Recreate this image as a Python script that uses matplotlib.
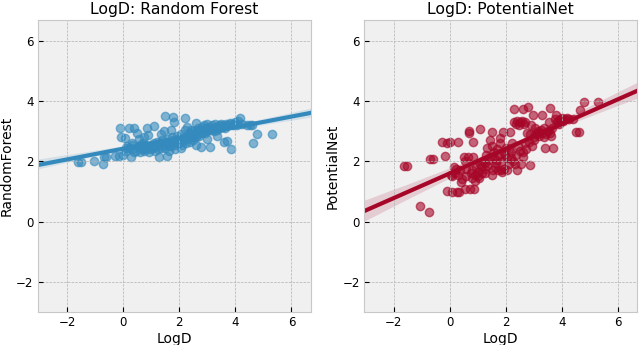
import matplotlib
matplotlib.use("Agg")
import matplotlib.pyplot as plt
import numpy as np
import seaborn as sns

plt.style.use("bmh")

logd = [-1.62, -1.52, -1.05, -0.73, -0.70, -0.60, -0.28, -0.15, -0.10, -0.08,
        0.00, 0.05, 0.10, 0.20, 0.22, 0.26, 0.31, 0.33, 0.38, 0.45,
        0.50, 0.55, 0.60, 0.65, 0.69, 0.70, 0.73, 0.75, 0.80, 0.82,
        0.85, 0.87, 0.90, 0.95, 1.00, 1.05, 1.09, 1.10, 1.15, 1.20,
        1.25, 1.27, 1.30, 1.35, 1.40, 1.45, 1.50, 1.52, 1.55, 1.57,
        1.60, 1.65, 1.70, 1.72, 1.75, 1.78, 1.80, 1.82, 1.85, 1.90,
        1.92, 1.95, 2.00, 2.05, 2.10, 2.15, 2.18, 2.22, 2.25, 2.28,
        2.30, 2.32, 2.35, 2.38, 2.40, 2.42, 2.45, 2.48, 2.50, 2.52,
        2.55, 2.58, 2.60, 2.62, 2.65, 2.68, 2.70, 2.72, 2.76, 2.80,
        2.82, 2.85, 2.88, 2.90, 2.95, 2.98, 3.00, 3.05, 3.09, 3.12,
        3.15, 3.20, 3.25, 3.28, 3.30, 3.35, 3.40, 3.45, 3.50, 3.55,
        3.57, 3.59, 3.62, 3.65, 3.70, 3.75, 3.81, 3.83, 3.86, 3.90,
        3.95, 4.00, 4.05, 4.10, 4.18, 4.25, 4.40, 4.52, 4.60, 4.64,
        4.78, 5.30,
        0.10, 0.15, 0.40, 0.60, 0.78, 0.92, 1.00, 1.12, 1.25, 1.45,
        1.50, 1.62, 1.70, 1.85, 1.98, 2.05, 2.12, 0.30, 0.55, 1.35,
        2.20, 2.60, 3.00, 3.35]

random_forest = [1.97, 1.97, 2.00, 1.91, 2.16, 2.16, 2.17, 2.17, 3.10, 2.80,
                 2.20, 2.78, 2.45, 3.10, 2.43, 2.16, 2.40, 2.55, 3.10, 2.35,
                 2.93, 2.50, 2.30, 2.45, 2.60, 2.40, 2.80, 2.35, 2.50, 2.55,
                 3.10, 2.45, 2.88, 2.40, 2.55, 2.45, 3.18, 2.60, 2.35, 2.65,
                 2.50, 2.16, 2.60, 2.45, 2.70, 3.00, 3.50, 2.55, 2.65, 2.18,
                 2.75, 2.50, 3.05, 2.60, 2.80, 3.49, 3.30, 2.70, 2.55, 2.85,
                 2.60, 2.75, 2.65, 2.90, 2.55, 2.80, 2.70, 3.43, 2.60, 3.15,
                 2.85, 2.75, 2.95, 2.65, 2.90, 3.05, 2.80, 2.70, 3.00, 2.85,
                 2.95, 3.29, 2.80, 3.05, 2.90, 3.10, 2.85, 3.00, 2.49, 3.15,
                 2.95, 3.05, 3.20, 2.95, 3.10, 3.25, 3.00, 3.15, 2.49, 3.05,
                 3.20, 3.10, 3.00, 3.25, 3.15, 3.05, 3.20, 3.10, 3.25, 3.15,
                 3.20, 2.65, 3.10, 3.25, 2.68, 3.20, 3.28, 3.26, 2.40, 3.20,
                 3.25, 3.30, 3.20, 3.35, 3.43, 3.25, 3.22, 3.20, 3.20, 2.62,
                 2.91, 2.91,
                 2.35, 2.50, 2.30, 2.55, 2.40, 2.30, 2.45, 2.50, 2.40, 2.55,
                 2.45, 2.35, 2.50, 2.40, 2.60, 2.45, 2.75, 2.60, 2.75, 2.90,
                 3.05, 2.55, 2.75, 2.85]

potential_net = [1.84, 1.84, 0.53, 0.33, 2.09, 2.09, 2.66, 2.18, 2.60, 1.03,
                 2.66, 1.55, 1.00, 1.60, 1.75, 1.00, 2.66, 1.00, 1.70, 1.40,
                 2.15, 1.10, 1.75, 2.15, 2.95, 3.00, 1.10, 1.60, 1.45, 2.66,
                 2.15, 1.10, 1.55, 1.80, 1.65, 1.45, 3.07, 1.90, 1.60, 2.00,
                 1.75, 1.60, 2.20, 1.85, 2.05, 2.70, 2.99, 2.50, 1.70, 2.10,
                 2.30, 1.95, 2.40, 1.70, 2.20, 2.77, 2.60, 1.70, 2.00, 2.98,
                 2.30, 1.75, 2.45, 2.10, 1.90, 2.98, 2.30, 2.60, 2.00, 3.30,
                 3.75, 1.90, 3.25, 2.20, 1.71, 3.35, 2.50, 3.20, 2.35, 3.30,
                 1.90, 3.35, 3.75, 2.30, 3.25, 2.60, 3.30, 2.40, 2.95, 3.80,
                 2.65, 1.88, 2.90, 3.20, 2.50, 3.54, 2.80, 3.10, 2.95, 2.90,
                 3.00, 2.85, 3.05, 3.54, 2.95, 3.10, 2.43, 2.90, 3.00, 3.30,
                 3.76, 2.95, 2.85, 3.10, 2.43, 3.40, 3.54, 3.30, 3.35, 3.25,
                 3.40, 3.45, 3.35, 3.40, 3.45, 3.40, 3.40, 2.99, 2.99, 3.70,
                 3.96, 3.96,
                 1.50, 1.80, 1.30, 1.50, 1.70, 1.35, 1.50, 1.80, 1.95, 2.15,
                 1.55, 1.80, 2.05, 1.65, 2.20, 1.70, 2.40, 1.55, 2.00, 2.45,
                 2.10, 2.15, 2.70, 2.80]

x = np.array(logd)
panels = [("LogD: Random Forest", "RandomForest", np.array(random_forest), "#348ABD"),
          ("LogD: PotentialNet", "PotentialNet", np.array(potential_net), "#A60628")]

fig = plt.figure(figsize=(6.4, 3.45), dpi=100)
positions = [[0.059, 0.096, 0.427, 0.846], [0.569, 0.096, 0.427, 0.846]]

for pos, (title, ylabel, y, color) in zip(positions, panels):
    ax = fig.add_axes(pos)
    ax.set_xlim(-3.05, 6.7)
    ax.set_ylim(-3.0, 6.7)
    sns.regplot(x=x, y=y, ax=ax, color=color, seed=0, truncate=False,
                scatter_kws={"alpha": 0.6, "s": 36},
                line_kws={"lw": 3})
    ax.set_xlim(-3.05, 6.7)
    ax.set_ylim(-3.0, 6.7)
    ax.set_xticks([-2, 0, 2, 4, 6])
    ax.set_yticks([-2, 0, 2, 4, 6])
    ax.set_title(title, fontsize=11.3, pad=4)
    ax.set_xlabel("LogD", fontsize=10, labelpad=2)
    ax.set_ylabel(ylabel, fontsize=10, labelpad=2)
    ax.tick_params(labelsize=8.5, pad=3)
    ax.set_facecolor("#f0f0f0")
    for s in ax.spines.values():
        s.set_color("#c8c8c8")

fig.savefig("out.png", dpi=100)
